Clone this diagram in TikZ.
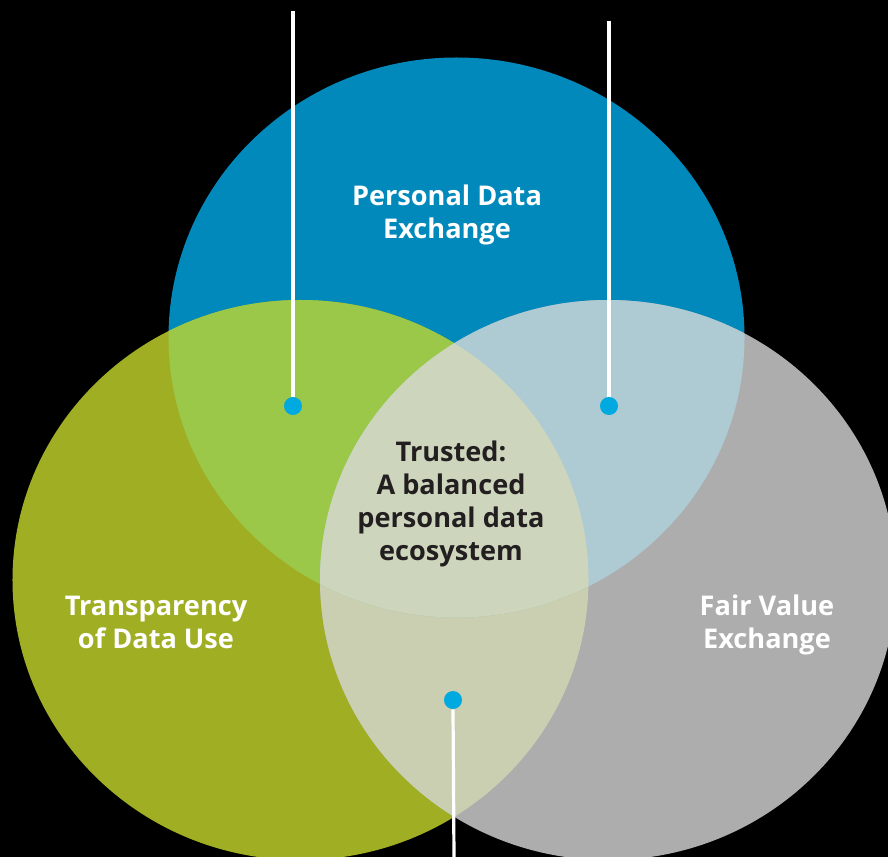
\documentclass[tikz,border=0pt]{standalone}
\usepackage{fontspec}
\setmainfont{Open Sans}
\definecolor{pdblue}{HTML}{0089BA}
\definecolor{tdgreen}{HTML}{A0AE24}
\definecolor{fvgrey}{HTML}{ADADAD}
\definecolor{bluegreen}{HTML}{9CC84A}
\definecolor{bluegrey}{HTML}{AECBD3}
\definecolor{greengrey}{HTML}{CACFB2}
\definecolor{trusted}{HTML}{CDD6BC}
\definecolor{pinblue}{HTML}{00A9E0}
\definecolor{darktext}{HTML}{231F20}
% the three sets
\newcommand{\setPDE}{(456.5,337.5) ellipse [x radius=72mm, y radius=70mm]}
\newcommand{\setTDU}{(300.5,580) ellipse [x radius=72mm, y radius=70mm]}
\newcommand{\setFVE}{(608,580) ellipse [x radius=72mm, y radius=70mm]}
\begin{document}
\begin{tikzpicture}[x=0.25mm,y=-0.25mm,
  lbl/.style={font=\bfseries\fontsize{19.3}{23.5}\selectfont,align=center,text=white},
  pindot/.style={circle,fill=pinblue,inner sep=0pt,minimum size=4.5mm},
  pinline/.style={white,line width=0.8mm}]
\fill[black] (0,0) rectangle (888,857);
\useasboundingbox (0,0) rectangle (888,857);
\clip (0,0) rectangle (888,857);
% plain circles
\fill[pdblue] \setPDE;
\fill[tdgreen] \setTDU;
\fill[fvgrey] \setFVE;
% overlaps
\begin{scope}
  \clip \setTDU;
  \fill[greengrey] \setFVE;
\end{scope}
\begin{scope}
  \clip \setPDE;
  \fill[bluegreen] \setTDU;
  \fill[bluegrey] \setFVE;
  \clip \setTDU;
  \fill[trusted] \setFVE;
\end{scope}
% labels
\node[lbl] (pde) at (447,215) {Personal Data\\Exchange};
\node[lbl] (tdu) at (156,622) {Transparency\\of Data Use};
\node[lbl] (fve) at (767,625) {Fair Value\\Exchange};
\node[lbl,text=darktext] (core) at (451,504) {Trusted:\\A balanced\\personal data\\ecosystem};
% pins
\node[pindot] (dotl) at (293,406) {};
\node[pindot] (dotr) at (609,406) {};
\node[pindot] (dotb) at (453,700) {};
\coordinate (endl) at (293,11);
\coordinate (endr) at (609,21);
\coordinate (endb) at (454,857);
\draw[pinline] (endl) -- (dotl.north);
\draw[pinline] (endr) -- (dotr.north);
\draw[pinline] (dotb.south) -- (endb);
\end{tikzpicture}
\end{document}
